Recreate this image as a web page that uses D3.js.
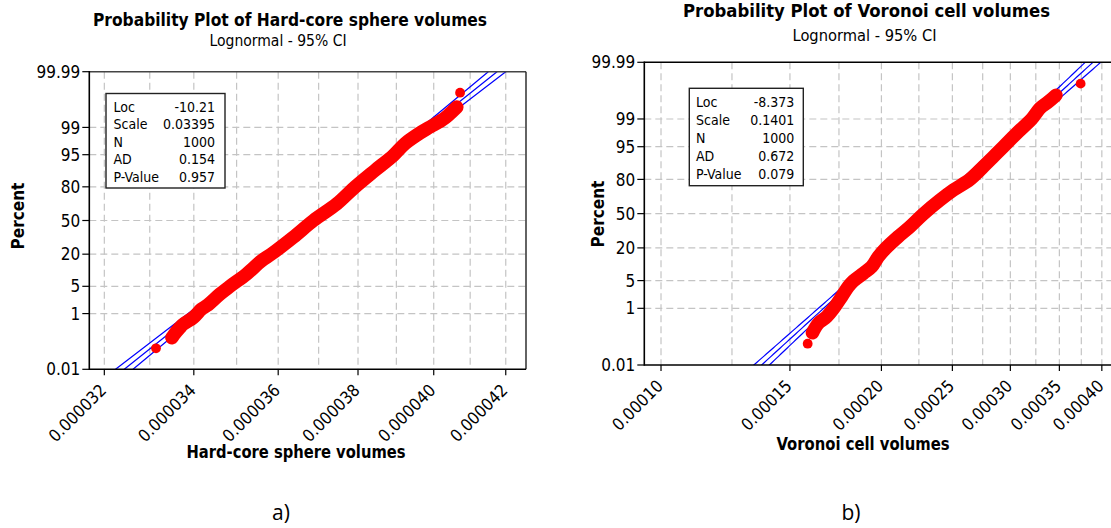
<!DOCTYPE html>
<html>
<head>
<meta charset="utf-8">
<script src="https://cdn.jsdelivr.net/npm/d3@7"></script>
<style>
  body { margin: 0; background: #fff; }
  svg { display: block; }
</style>
</head>
<body>
<svg id="chart" width="1111" height="528"></svg>
<script>
// ---- shared percent (normal probability) axis ----
const percentTicks = [0.01, 1, 5, 20, 50, 80, 95, 99, 99.99];
const percentTickLabels = ["0.01", "1", "5", "20", "50", "80", "95", "99", "99.99"];
const percentGrid = [1, 5, 20, 50, 80, 95, 99];

const statNames = ["Loc", "Scale", "N", "AD", "P-Value"];

// ---- a) hard-core sphere volumes ----
const hardTicks = [0.000032, 0.000034, 0.000036, 0.000038, 0.000040, 0.000042];
const hardTickLabels = ["0.000032", "0.000034", "0.000036", "0.000038", "0.000040", "0.000042"];
const hardGrid = [0.000032, 0.000033, 0.000034, 0.000035, 0.000036, 0.000037,
                  0.000038, 0.000039, 0.000040, 0.000041, 0.000042];
const hardStats = [-10.21, 0.03395, 1000, 0.154, 0.957];
const hardVolumes = [33.14, 33.50, 33.55, 33.68, 33.76, 33.99, 34.18, 34.30, 34.61, 34.84,
                     35.24, 35.60, 35.84, 36.37, 36.87, 37.46, 37.92, 38.44, 38.92, 39.23,
                     39.67, 39.90, 40.22, 40.40, 40.63, 40.72].map(v => v * 1e-6);
const hardPercents = [0.07, 0.17, 0.22, 0.37, 0.48, 0.77, 1.35, 1.66, 3.31, 4.98,
                      9.08, 15.8, 20.2, 33.8, 50, 66.2, 79.8, 89.5, 94.8, 97.27,
                      98.65, 99.03, 99.39, 99.58, 99.77, 99.93];

// ---- b) Voronoi cell volumes ----
const voroTicks = [0.00010, 0.00015, 0.00020, 0.00025, 0.00030, 0.00035, 0.00040];
const voroTickLabels = ["0.00010", "0.00015", "0.00020", "0.00025", "0.00030", "0.00035", "0.00040"];
const voroGrid = [0.0001, 0.000125, 0.00015, 0.000175, 0.0002, 0.000225, 0.00025,
                  0.000275, 0.0003, 0.000325, 0.00035, 0.000375, 0.0004];
const voroStats = [-8.373, 0.1401, 1000, 0.672, 0.079];
const voroVolumes = [1.586, 1.610, 1.640, 1.684, 1.719, 1.765, 1.802, 1.831, 1.890, 1.940,
                     1.981, 2.023, 2.109, 2.188, 2.282, 2.405, 2.508, 2.642, 2.756, 2.844,
                     2.935, 3.060, 3.208, 3.293, 3.381, 3.463, 3.742].map(v => v * 1e-4);
const voroPercents = [0.07, 0.17, 0.35, 0.57, 0.96, 2.07, 3.64, 4.9, 7.13, 9.63,
                      14.5, 19.25, 28.6, 37.4, 49.7, 63.1, 71.9, 80.05, 87.6, 91.9,
                      95.0, 97.58, 99.0, 99.52, 99.70, 99.82, 99.93];

// inverse standard normal CDF (Acklam)
function probit(p) {
  const a = [-3.969683028665376e+01, 2.209460984245205e+02, -2.759285104469687e+02,
             1.383577518672690e+02, -3.066479806614716e+01, 2.506628277459239e+00];
  const b = [-5.447609879822406e+01, 1.615858368580409e+02, -1.556989798598866e+02,
             6.680131188771972e+01, -1.328068155288572e+01];
  const c = [-7.784894002430293e-03, -3.223964580411365e-01, -2.400758277161838e+00,
             -2.549732539343734e+00, 4.374664141464968e+00, 2.938163982698783e+00];
  const d = [7.784695709041462e-03, 3.224671290700398e-01, 2.445134137142996e+00,
             3.754408661907416e+00];
  const pl = 0.02425;
  let q, r;
  if (p < pl) {
    q = Math.sqrt(-2 * Math.log(p));
    return (((((c[0]*q+c[1])*q+c[2])*q+c[3])*q+c[4])*q+c[5]) / ((((d[0]*q+d[1])*q+d[2])*q+d[3])*q+1);
  }
  if (p <= 1 - pl) {
    q = p - 0.5; r = q * q;
    return (((((a[0]*r+a[1])*r+a[2])*r+a[3])*r+a[4])*r+a[5])*q / (((((b[0]*r+b[1])*r+b[2])*r+b[3])*r+b[4])*r+1);
  }
  q = Math.sqrt(-2 * Math.log(1 - p));
  return -(((((c[0]*q+c[1])*q+c[2])*q+c[3])*q+c[4])*q+c[5]) / ((((d[0]*q+d[1])*q+d[2])*q+d[3])*q+1);
}

const svg = d3.select("#chart");
const FONT = "'DejaVu Sans Condensed', 'DejaVu Sans', sans-serif";

function drawPanel(cfg) {
  const { id, box, xDomain, ticks, tickLabels, grid, stats, volumes, percents } = cfg;
  const g = svg.append("g");

  const x = d3.scaleLog().domain(xDomain).range([box.x0, box.x1]);
  const zScale = d3.scaleLinear().domain([probit(0.0001), probit(0.9999)]).range([box.y1, box.y0]);
  const y = p => zScale(probit(p / 100));

  g.append("clipPath").attr("id", "clip-" + id)
    .append("rect").attr("x", box.x0).attr("y", box.y0)
    .attr("width", box.x1 - box.x0).attr("height", box.y1 - box.y0);

  // dashed grid
  const gridG = g.append("g").attr("stroke", "#c4c4c4").attr("stroke-width", 1.2)
    .attr("stroke-dasharray", "7,4");
  gridG.selectAll("line.v").data(grid).join("line").attr("class", "v")
    .attr("x1", d => x(d)).attr("x2", d => x(d)).attr("y1", box.y0).attr("y2", box.y1);
  gridG.selectAll("line.h").data(percentGrid).join("line").attr("class", "h")
    .attr("x1", box.x0).attr("x2", box.x1).attr("y1", d => y(d)).attr("y2", d => y(d));

  // fitted lognormal line with 95% confidence band
  const [loc, scale, n] = stats;
  const zs = d3.range(-4.6, 4.61, 0.05);
  const half = z => 1.96 * scale * Math.sqrt(1 / n + z * z / (2 * n));
  const fitLine = d3.line().x(d => x(Math.exp(d[0]))).y(d => zScale(d[1]));
  const plotG = g.append("g").attr("clip-path", `url(#clip-${id})`);
  [0, -1, 1].forEach(s => {
    plotG.append("path")
      .datum(zs.map(z => [loc + scale * z + s * half(z), z]))
      .attr("d", fitLine).attr("fill", "none")
      .attr("stroke", "#0000ff").attr("stroke-width", 1.2);
  });

  // observed quantiles
  const pts = volumes.map((v, i) => [v, percents[i]]);
  const band = pts.slice(1, pts.length - 1);
  plotG.append("path").datum(band)
    .attr("d", d3.line().curve(d3.curveCatmullRom.alpha(0.5)).x(d => x(d[0])).y(d => y(d[1])))
    .attr("fill", "none").attr("stroke", "#ff0000")
    .attr("stroke-width", cfg.bandWidth).attr("stroke-linecap", "round").attr("stroke-linejoin", "round");
  plotG.selectAll("circle").data(pts).join("circle")
    .attr("cx", d => x(d[0])).attr("cy", d => y(d[1])).attr("r", 4.9).attr("fill", "#ff0000");

  // frame
  g.append("line").attr("x1", box.x0).attr("x2", box.x1).attr("y1", box.y0).attr("y2", box.y0)
    .attr("stroke", cfg.topColor).attr("stroke-width", 1.6);
  g.append("line").attr("x1", box.x1).attr("x2", box.x1).attr("y1", box.y0).attr("y2", box.y1)
    .attr("stroke", "#222").attr("stroke-width", 1.4);
  g.append("line").attr("x1", box.x0).attr("x2", box.x0).attr("y1", box.y0 - 0.8).attr("y2", box.y1 + 0.8)
    .attr("stroke", "#000").attr("stroke-width", 1.6);
  g.append("line").attr("x1", box.x0).attr("x2", box.x1).attr("y1", box.y1).attr("y2", box.y1)
    .attr("stroke", "#000").attr("stroke-width", 1.6);

  // y axis ticks + labels
  const yT = g.append("g");
  yT.selectAll("line").data(percentTicks).join("line")
    .attr("x1", box.x0 - 7).attr("x2", box.x0).attr("y1", d => y(d)).attr("y2", d => y(d))
    .attr("stroke", "#000").attr("stroke-width", 1.2);
  yT.selectAll("text").data(percentTicks).join("text")
    .attr("x", box.x0 - 9).attr("y", d => y(d)).attr("dy", "0.36em")
    .attr("text-anchor", "end").attr("font-family", FONT).attr("font-size", 17)
    .attr("fill", "#000").text((d, i) => percentTickLabels[i]);

  // x axis ticks + rotated labels
  const xT = g.append("g");
  xT.selectAll("line").data(ticks).join("line")
    .attr("x1", d => x(d)).attr("x2", d => x(d)).attr("y1", box.y1).attr("y2", box.y1 + 6)
    .attr("stroke", "#000").attr("stroke-width", 1.2);
  xT.selectAll("text").data(ticks).join("text")
    .attr("transform", d => `translate(${x(d) + 3},${box.y1 + 22}) rotate(-45)`)
    .attr("text-anchor", "end").attr("font-family", FONT).attr("font-size", 17)
    .attr("fill", "#000").text((d, i) => tickLabels[i]);

  // statistics box
  const sb = cfg.statBox;
  g.append("rect").attr("x", sb.x0).attr("y", sb.y0).attr("width", sb.x1 - sb.x0).attr("height", sb.y1 - sb.y0)
    .attr("fill", "#fff").attr("stroke", "#222").attr("stroke-width", 1.4);
  const rows = g.append("g").attr("font-family", FONT).attr("font-size", 14).attr("fill", "#000");
  statNames.forEach((name, i) => {
    const ry = sb.row0 + i * sb.step;
    rows.append("text").attr("x", sb.labelX).attr("y", ry).attr("dy", "0.36em").text(name);
    rows.append("text").attr("x", sb.valueX).attr("y", ry).attr("dy", "0.36em")
      .attr("text-anchor", "end").text(String(stats[i]));
  });

  // titles
  const t = cfg.text;
  g.append("text").attr("x", t.titleX).attr("y", t.titleY).attr("text-anchor", "middle")
    .attr("font-family", FONT).attr("font-weight", "bold").attr("font-size", 18.5)
    .attr("textLength", t.titleW).attr("lengthAdjust", "spacingAndGlyphs").text(t.title);
  g.append("text").attr("x", t.subX).attr("y", t.subY).attr("text-anchor", "middle")
    .attr("font-family", FONT).attr("font-size", 16)
    .attr("textLength", t.subW).attr("lengthAdjust", "spacingAndGlyphs").text("Lognormal - 95% CI");
  g.append("text").attr("x", t.xTitleX).attr("y", t.xTitleY).attr("text-anchor", "middle")
    .attr("font-family", FONT).attr("font-weight", "bold").attr("font-size", 17)
    .attr("textLength", t.xTitleW).attr("lengthAdjust", "spacingAndGlyphs").text(t.xTitle);
  g.append("text").attr("transform", `translate(${t.yTitleX},${t.yTitleY}) rotate(-90)`)
    .attr("text-anchor", "middle").attr("font-family", FONT).attr("font-weight", "bold")
    .attr("font-size", 17).text("Percent");
  g.append("text").attr("x", t.tagX).attr("y", 520).attr("text-anchor", "middle")
    .attr("font-family", "'Open Sans', sans-serif").attr("font-size", 21).text(t.tag);
}

drawPanel({
  id: "hard",
  box: { x0: 89.3, x1: 526, y0: 71.7, y1: 369.3 },
  xDomain: [31.676e-6, 42.58e-6],
  ticks: hardTicks, tickLabels: hardTickLabels, grid: hardGrid,
  stats: hardStats, volumes: hardVolumes, percents: hardPercents,
  bandWidth: 13.5, topColor: "#444",
  statBox: { x0: 106, x1: 225, y0: 93.5, y1: 188, labelX: 113.5, valueX: 215, row0: 106.5, step: 17.6 },
  text: {
    title: "Probability Plot of Hard-core sphere volumes", titleX: 290, titleY: 26, titleW: 394,
    subX: 278, subY: 46, subW: 137,
    xTitle: "Hard-core sphere volumes", xTitleX: 296, xTitleY: 458, xTitleW: 219,
    yTitleX: 24, yTitleY: 216, tag: "a)", tagX: 281
  }
});

drawPanel({
  id: "voro",
  box: { x0: 644.3, x1: 1113, y0: 62.3, y1: 365 },
  xDomain: [0.9488e-4, 4.143e-4],
  ticks: voroTicks, tickLabels: voroTickLabels, grid: voroGrid,
  stats: voroStats, volumes: voroVolumes, percents: voroPercents,
  bandWidth: 13.5, topColor: "#000",
  statBox: { x0: 689.3, x1: 803.3, y0: 88.3, y1: 185.7, labelX: 696, valueX: 794.3, row0: 101.6, step: 18.2 },
  text: {
    title: "Probability Plot of Voronoi cell volumes", titleX: 866.5, titleY: 16.5, titleW: 367,
    subX: 864.5, subY: 40.5, subW: 144,
    xTitle: "Voronoi cell volumes", xTitleX: 863, xTitleY: 450, xTitleW: 173,
    yTitleX: 604, yTitleY: 214, tag: "b)", tagX: 851
  }
});
</script>
</body>
</html>
